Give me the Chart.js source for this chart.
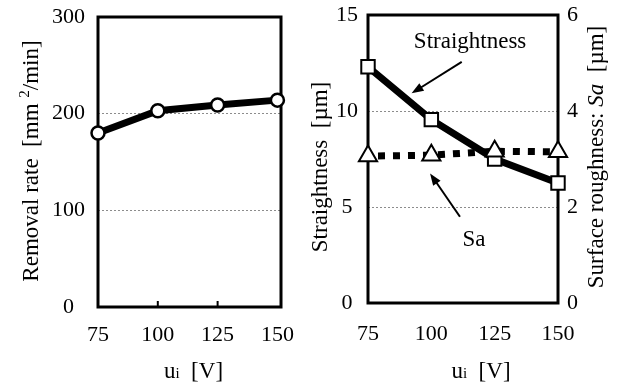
<!DOCTYPE html>
<html>
<head>
<meta charset="utf-8">
<script src="https://cdn.jsdelivr.net/npm/chart.js@4"></script>
<style>
  html, body { margin: 0; padding: 0; background: #fff; }
  #wrap { position: relative; width: 617px; height: 388px; }
  #rateChart { position: absolute; left: 0; top: 0; }
  #qualityChart { position: absolute; left: 300px; top: 0; }
</style>
</head>
<body>
<div id="wrap">
  <canvas id="rateChart" width="300" height="388" style="width:300px;height:388px"></canvas>
  <canvas id="qualityChart" width="317" height="388" style="width:317px;height:388px"></canvas>
</div>
<script>
'use strict'

// values
var voltages = [75, 100, 125, 150];
var removalRate = [180, 203, 209, 214];
var straightness = [12.3, 9.55, 7.5, 6.25];
var sa = [3.06, 3.08, 3.16, 3.15];

var xTicks = [75, 100, 125, 150];
var rateTicks = [0, 100, 200, 300];
var straightTicks = [0, 5, 10, 15];
var saTicks = [0, 2, 4, 6];

var SERIF = "'Liberation Serif', 'Times New Roman', serif";

function font(size, style) {
    return (style ? style + ' ' : '') + size + 'px ' + SERIF;
}

function xy(values) {
    return voltages.map(function (v, i) { return { x: v, y: values[i] }; });
}

function setTicks(list) {
    return function (scale) {
        scale.ticks = list.map(function (v) { return { value: v }; });
    };
}

// fixed axis size, and no extra room for label overhang
function fixSize(w, h) {
    return function (s) {
        if (w) s.width = w;
        if (h) s.height = h;
        s.paddingTop = 0;
        s.paddingBottom = 0;
        s.paddingLeft = 0;
        s.paddingRight = 0;
    };
}

function innerGrid(max) {
    return function (ctx) {
        var v = ctx.tick.value;
        return (v > 0 && v < max) ? '#8c8c8c' : 'rgba(0,0,0,0)';
    };
}

// runs of text with own font, centred on (cx, cy) along the baseline
function drawRich(ctx, runs, cx, cy, rot) {
    ctx.save();
    ctx.translate(cx, cy);
    ctx.rotate(rot);
    ctx.fillStyle = '#000';
    ctx.textBaseline = 'alphabetic';
    ctx.textAlign = 'left';
    var total = 0;
    runs.forEach(function (r) {
        ctx.font = r.f;
        r.w = ctx.measureText(r.t).width;
        total += r.w;
    });
    var x = -total / 2;
    runs.forEach(function (r) {
        ctx.font = r.f;
        ctx.fillText(r.t, x, r.dy || 0);
        x += r.w;
    });
    ctx.restore();
}

function drawArrow(ctx, x1, y1, x2, y2) {
    var a = Math.atan2(y2 - y1, x2 - x1);
    var len = 12, half = 4.5;
    ctx.save();
    ctx.strokeStyle = '#000';
    ctx.fillStyle = '#000';
    ctx.lineWidth = 2;
    ctx.beginPath();
    ctx.moveTo(x1, y1);
    ctx.lineTo(x2 - Math.cos(a) * len * 0.8, y2 - Math.sin(a) * len * 0.8);
    ctx.stroke();
    ctx.beginPath();
    ctx.moveTo(x2, y2);
    ctx.lineTo(x2 - Math.cos(a) * len - Math.sin(a) * half, y2 - Math.sin(a) * len + Math.cos(a) * half);
    ctx.lineTo(x2 - Math.cos(a) * len + Math.sin(a) * half, y2 - Math.sin(a) * len - Math.cos(a) * half);
    ctx.closePath();
    ctx.fill();
    ctx.restore();
}

function drawFrame(chart) {
    var ctx = chart.ctx, ca = chart.chartArea;
    ctx.save();
    ctx.strokeStyle = '#000';
    ctx.lineWidth = 3;
    ctx.strokeRect(ca.left, ca.top, ca.right - ca.left, ca.bottom - ca.top);
    ctx.restore();
}

var tickFont = { family: SERIF, size: 22 };

// ---------- left: removal rate ----------
var rateFrame = {
    id: 'rateFrame',
    beforeDatasetsDraw: function (chart) {
        drawFrame(chart);
        var ctx = chart.ctx, ca = chart.chartArea, sx = chart.scales.x;
        ctx.save();
        ctx.strokeStyle = '#000';
        ctx.lineWidth = 2;
        xTicks.slice(1, -1).forEach(function (v) {
            var px = sx.getPixelForValue(v);
            ctx.beginPath();
            ctx.moveTo(px, ca.bottom);
            ctx.lineTo(px, ca.bottom - 6);
            ctx.stroke();
        });
        ctx.restore();
    },
    afterDraw: function (chart) {
        var ctx = chart.ctx, ca = chart.chartArea;
        drawRich(ctx, [
            { t: 'Removal rate  [mm ', f: font(23) },
            { t: '2', f: font(15), dy: -9 },
            { t: '/min]', f: font(23) }
        ], 38, (ca.top + ca.bottom) / 2 - 1, -Math.PI / 2);
        drawRich(ctx, [
            { t: 'u', f: font(23) },
            { t: 'i', f: font(15) },
            { t: '  [V]', f: font(23) }
        ], (ca.left + ca.right) / 2 + 4, 378, 0);
    }
};

var rateChart = new Chart(document.getElementById('rateChart'), {
    type: 'line',
    data: {
        datasets: [{
            data: xy(removalRate),
            borderColor: '#000',
            borderWidth: 7,
            pointStyle: 'circle',
            pointRadius: 6.5,
            pointBorderWidth: 2.5,
            pointBackgroundColor: '#fff',
            pointBorderColor: '#000',
            clip: false
        }]
    },
    options: {
        responsive: false,
        animation: false,
        layout: { padding: { top: 17, right: 19, left: 0, bottom: 0 } },
        plugins: { legend: { display: false }, tooltip: { enabled: false } },
        scales: {
            x: {
                type: 'linear', min: 75, max: 151.5,
                afterBuildTicks: setTicks(xTicks),
                afterFit: fixSize(0, 81),
                grid: { display: false, drawTicks: false },
                border: { display: false },
                ticks: { font: tickFont, color: '#000', padding: 15, maxRotation: 0 }
            },
            y: {
                min: 0, max: 300,
                afterBuildTicks: setTicks(rateTicks),
                afterFit: fixSize(98, 0),
                grid: { color: innerGrid(300), lineWidth: 1, drawTicks: false },
                border: { display: false, dash: [2, 2] },
                ticks: { font: tickFont, color: '#000', padding: 13, crossAlign: 'center' }
            }
        }
    },
    plugins: [rateFrame]
});

// ---------- right: straightness and Sa ----------
var qualityFrame = {
    id: 'qualityFrame',
    beforeDatasetsDraw: function (chart) {
        drawFrame(chart);
    },
    afterDraw: function (chart) {
        var ctx = chart.ctx, ca = chart.chartArea;
        var sx = chart.scales.x, sy = chart.scales.y;
        drawRich(ctx, [{ t: 'Straightness  [\u00b5m]', f: font(23) }],
            27, (ca.top + ca.bottom) / 2 + 8, -Math.PI / 2);
        drawRich(ctx, [
            { t: 'Surface roughness: ', f: font(23) },
            { t: 'Sa', f: font(23, 'italic') },
            { t: '  [\u00b5m]', f: font(23) }
        ], 303, (ca.top + ca.bottom) / 2 - 2, -Math.PI / 2);
        drawRich(ctx, [
            { t: 'u', f: font(23) },
            { t: 'i', f: font(15) },
            { t: '  [V]', f: font(23) }
        ], (ca.left + ca.right) / 2 + 18, 378, 0);

        // labels with arrows
        ctx.save();
        ctx.fillStyle = '#000';
        ctx.textAlign = 'center';
        ctx.textBaseline = 'middle';
        ctx.font = font(23);
        ctx.fillText('Straightness', sx.getPixelForValue(115.3), sy.getPixelForValue(13.6));
        ctx.fillText('Sa', sx.getPixelForValue(116.8), sy.getPixelForValue(3.28));
        ctx.restore();
        drawArrow(ctx, sx.getPixelForValue(112), sy.getPixelForValue(12.56),
            sx.getPixelForValue(92.2), sy.getPixelForValue(10.92));
        drawArrow(ctx, sx.getPixelForValue(111.3), sy.getPixelForValue(4.49),
            sx.getPixelForValue(99.5), sy.getPixelForValue(6.75));
    }
};

var qualityChart = new Chart(document.getElementById('qualityChart'), {
    type: 'line',
    data: {
        datasets: [{
            label: 'Straightness',
            data: xy(straightness),
            yAxisID: 'y',
            order: 1,
            borderColor: '#000',
            borderWidth: 7,
            pointStyle: 'rect',
            pointRadius: 9.5,
            pointBorderWidth: 2,
            pointBackgroundColor: '#fff',
            pointBorderColor: '#000',
            clip: false
        }, {
            label: 'Sa',
            data: xy(sa),
            yAxisID: 'y2',
            order: 0,
            borderColor: '#000',
            borderWidth: 7,
            borderDash: [7, 8],
            borderDashOffset: 5,
            borderCapStyle: 'butt',
            pointStyle: 'triangle',
            pointRadius: 10.5,
            pointBorderWidth: 2,
            pointBackgroundColor: '#fff',
            pointBorderColor: '#000',
            clip: false
        }]
    },
    options: {
        responsive: false,
        animation: false,
        layout: { padding: { top: 15, right: 0, left: 0, bottom: 0 } },
        plugins: { legend: { display: false }, tooltip: { enabled: false } },
        scales: {
            x: {
                type: 'linear', min: 75, max: 150,
                afterBuildTicks: setTicks(xTicks),
                afterFit: fixSize(0, 85),
                grid: { display: false, drawTicks: false },
                border: { display: false },
                ticks: { font: tickFont, color: '#000', padding: 18, maxRotation: 0 }
            },
            y: {
                position: 'left',
                min: 0, max: 15,
                afterBuildTicks: setTicks(straightTicks),
                afterFit: fixSize(68, 0),
                grid: { color: innerGrid(15), lineWidth: 1, drawTicks: false },
                border: { display: false, dash: [2, 2] },
                ticks: { font: tickFont, color: '#000', padding: 10, crossAlign: 'center' }
            },
            y2: {
                position: 'right',
                min: 0, max: 6,
                afterBuildTicks: setTicks(saTicks),
                afterFit: fixSize(59, 0),
                grid: { display: false, drawTicks: false },
                border: { display: false },
                ticks: { font: tickFont, color: '#000', padding: 9, crossAlign: 'center' }
            }
        }
    },
    plugins: [qualityFrame]
});
</script>
</body>
</html>
